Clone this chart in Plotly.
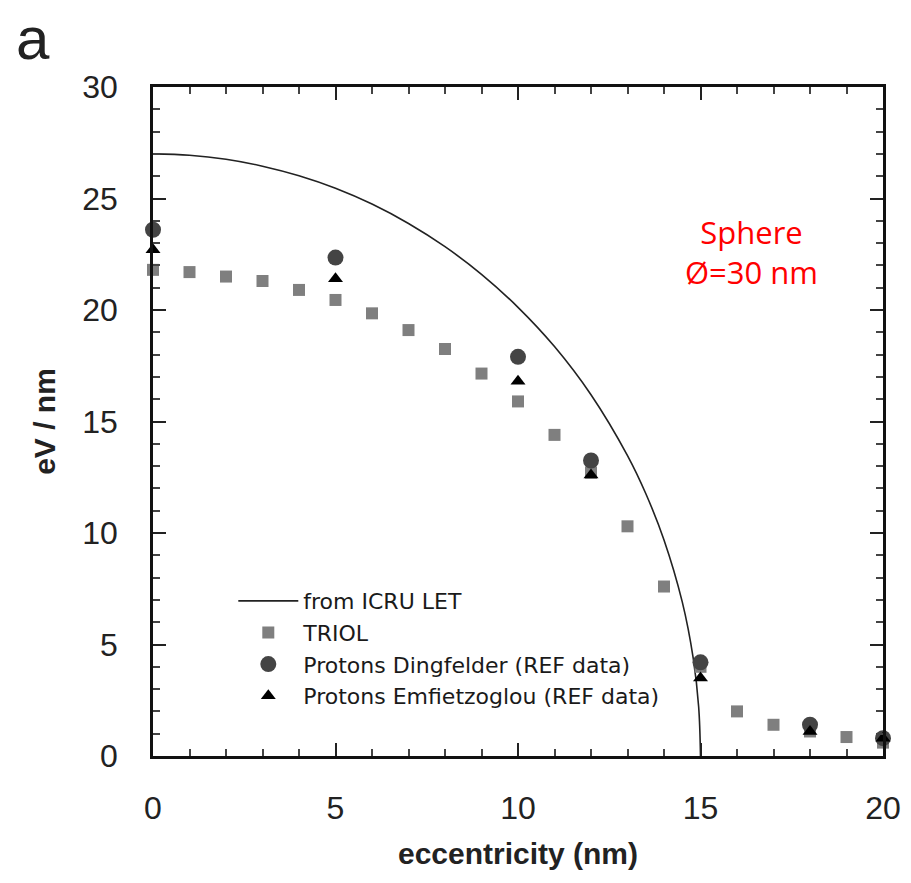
import plotly.graph_objects as go

# ICRU LET reference curve (eV/nm vs. eccentricity, nm)
icru_x = [0, 1, 2, 3, 4, 5, 6, 7, 8, 9, 10, 11, 12, 13, 13.5, 14, 14.5, 14.8, 14.95, 15]
icru_y = [27.0, 26.94, 26.76, 26.45, 26.02, 25.46, 24.75, 23.88, 22.84, 21.6,
          20.12, 18.36, 16.2, 13.47, 11.77, 9.69, 6.91, 4.39, 2.2, 0.0]

# TRIOL simulation
triol_x = [0, 1, 2, 3, 4, 5, 6, 7, 8, 9, 10, 11, 12, 13, 14, 15, 16, 17, 18, 19, 20]
triol_y = [21.8, 21.7, 21.5, 21.3, 20.9, 20.45, 19.85, 19.1, 18.25, 17.15,
           15.9, 14.4, 12.7, 10.3, 7.6, 4.0, 2.0, 1.4, 1.1, 0.85, 0.6]

# Protons, Dingfelder cross sections (REF data)
ding_x = [0, 5, 10, 12, 15, 18, 20]
ding_y = [23.6, 22.35, 17.9, 13.25, 4.2, 1.4, 0.8]

# Protons, Emfietzoglou cross sections (REF data)
emf_x = [0, 5, 10, 12, 15, 18, 20]
emf_y = [22.7, 21.4, 16.8, 12.6, 3.5, 1.1, 0.8]

x_ticks = [0, 5, 10, 15, 20]
y_ticks = [0, 5, 10, 15, 20, 25, 30]

FONT = "Liberation Sans, Arial, sans-serif"

fig = go.Figure()
fig.add_trace(go.Scatter(x=icru_x, y=icru_y, mode="lines", name="from ICRU LET",
                         line=dict(color="#222222", width=1.6, shape="spline"),
                         cliponaxis=False))
fig.add_trace(go.Scatter(x=triol_x, y=triol_y, mode="markers", name="TRIOL",
                         marker=dict(symbol="square", size=12, color="#7f7f7f"),
                         cliponaxis=False))
fig.add_trace(go.Scatter(x=ding_x, y=ding_y, mode="markers",
                         name="Protons Dingfelder (REF data)",
                         marker=dict(symbol="circle", size=16, color="#444444"),
                         cliponaxis=False))
fig.add_trace(go.Scatter(x=emf_x, y=emf_y, mode="markers",
                         name="Protons Emfietzoglou (REF data)",
                         marker=dict(symbol="triangle-up", size=13, color="#000000"),
                         cliponaxis=False))

axis_common = dict(
    showgrid=False, zeroline=False, showline=True, linecolor="#111111", linewidth=2.5,
    mirror="ticks", ticks="inside", ticklen=13, tickwidth=2, tickcolor="#222222",
    tickfont=dict(family=FONT, size=32, color="#222222"),
    minor=dict(ticks="inside", ticklen=7, tickwidth=1.5, tickcolor="#444444", dtick=1),
)

fig.update_xaxes(range=[0, 20], tickvals=x_ticks, ticklabelstandoff=22,
                 title=dict(text="<b>eccentricity (nm)</b>", standoff=18,
                            font=dict(family=FONT, size=30, color="#222222")),
                 **axis_common)
fig.update_yaxes(range=[0, 30], tickvals=y_ticks, ticklabelstandoff=26,
                 title=dict(text="<b>eV / nm</b>", standoff=18,
                            font=dict(family=FONT, size=30, color="#222222")),
                 **axis_common)

fig.add_annotation(text="a", xref="paper", yref="paper", x=-0.19, y=1.125,
                   xanchor="left", yanchor="top", showarrow=False,
                   font=dict(family=FONT, size=60, color="#222222"))
fig.add_annotation(text="Sphere<br>Ø=30 nm", xref="x", yref="y", x=16.4, y=22.6,
                   showarrow=False, align="center",
                   font=dict(family="Open Sans, sans-serif", size=31, color="#ff0000"))

fig.update_layout(
    width=911, height=883,
    margin=dict(l=153, r=28, t=87, b=127, autoexpand=False),
    paper_bgcolor="white", plot_bgcolor="white",
    showlegend=True,
    legend=dict(x=0.11, y=0.263, xanchor="left", yanchor="top",
                bgcolor="rgba(0,0,0,0)", borderwidth=0, tracegroupgap=0,
                itemwidth=60,
                font=dict(family="DejaVu Sans, sans-serif", size=22, color="#1a1a1a")),
)

fig.write_html("out.html")
